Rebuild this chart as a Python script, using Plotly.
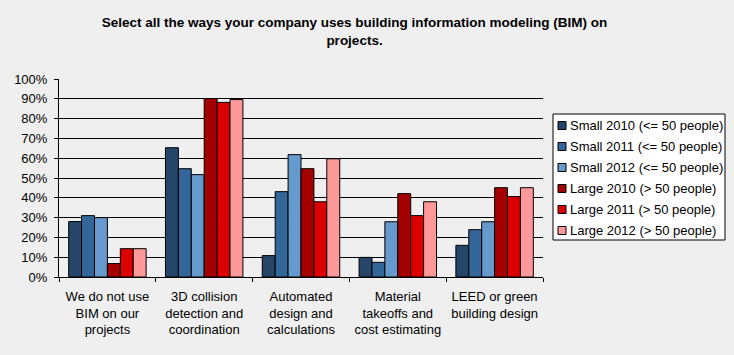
import plotly.graph_objects as go

categories = [
    "We do not use<br>BIM on our<br>projects",
    "3D collision<br>detection and<br>coordination",
    "Automated<br>design and<br>calculations",
    "Material<br>takeoffs and<br>cost estimating",
    "LEED or green<br>building design",
]
series_names = [
    "Small 2010 (<= 50 people)",
    "Small 2011 (<= 50 people)",
    "Small 2012 (<= 50 people)",
    "Large 2010 (> 50 people)",
    "Large 2011 (> 50 people)",
    "Large 2012 (> 50 people)",
]
small_2010 = [28, 65.3, 10.8, 9.9, 16]
small_2011 = [31, 54.7, 43.1, 7.4, 23.9]
small_2012 = [30, 51.7, 61.8, 27.9, 27.9]
large_2010 = [6.8, 90.1, 54.7, 42.1, 45.1]
large_2011 = [14.3, 88.2, 38, 31, 40.6]
large_2012 = [14.3, 89.6, 59.7, 38, 45.1]
series_values = [small_2010, small_2011, small_2012, large_2010, large_2011, large_2012]
colors = ["#254669", "#336699", "#6699CC", "#A50000", "#DD0000", "#FF9999"]

W, H = 734, 355
ML, MR, MT, MB = 59, 191, 79, 78
PW, PH = W - ML - MR, H - MT - MB


def px(xp):
    return (xp - ML) / PW


def py(yp):
    return (H - MB - yp) / PH


fig = go.Figure()
for name, vals, c in zip(series_names, series_values, colors):
    fig.add_trace(go.Bar(
        x=categories, y=vals, name=name, showlegend=False,
        marker=dict(color=c, line=dict(color="black", width=1)),
    ))

font_family = "Liberation Sans, Arial, sans-serif"

# legend drawn as layout decoration
shapes = [dict(type="rect", xref="paper", yref="paper",
               x0=px(553), x1=px(725), y0=py(240), y1=py(114),
               fillcolor="white", line=dict(color="black", width=1), layer="above")]
annotations = []
for i, (name, c) in enumerate(zip(series_names, colors)):
    cy = 125.5 + i * 21
    shapes.append(dict(type="rect", xref="paper", yref="paper",
                       x0=px(558), x1=px(566), y0=py(cy + 4), y1=py(cy - 4),
                       fillcolor=c, line=dict(color="black", width=1), layer="above"))
    annotations.append(dict(xref="paper", yref="paper", x=px(568), y=py(cy),
                            xanchor="left", yanchor="middle", showarrow=False,
                            text=name, font=dict(family=font_family, size=13, color="black")))

fig.update_layout(
    width=W, height=H,
    paper_bgcolor="#EFEFEF", plot_bgcolor="#EFEFEF",
    barmode="group", bargap=0.2, bargroupgap=0,
    margin=dict(l=ML, r=MR, t=MT, b=MB, autoexpand=False),
    font=dict(family=font_family, size=13, color="black"),
    title=dict(
        text="<b>Select all the ways your company uses building information modeling (BIM) on<br>projects.</b>",
        x=0.483, xanchor="center", y=1 - 27 / H, yanchor="top",
        font=dict(family=font_family, size=13.5, color="black"),
    ),
    shapes=shapes,
    annotations=annotations,
    showlegend=False,
)
fig.update_yaxes(
    range=[0, 100], dtick=10, ticksuffix="%",
    showgrid=True, gridcolor="black", gridwidth=1,
    showline=True, linecolor="black", linewidth=1,
    ticks="outside", ticklen=4, tickcolor="black",
    ticklabelstandoff=4,
    zeroline=False, fixedrange=True,
)
fig.update_xaxes(
    showline=True, linecolor="black", linewidth=1,
    ticks="outside", ticklen=4, tickcolor="black",
    tickson="boundaries", tickangle=0, ticklabelstandoff=7,
    fixedrange=True,
)

fig.write_html("out.html", post_script="document.body.style.margin='0';",
               config={"displayModeBar": False})
